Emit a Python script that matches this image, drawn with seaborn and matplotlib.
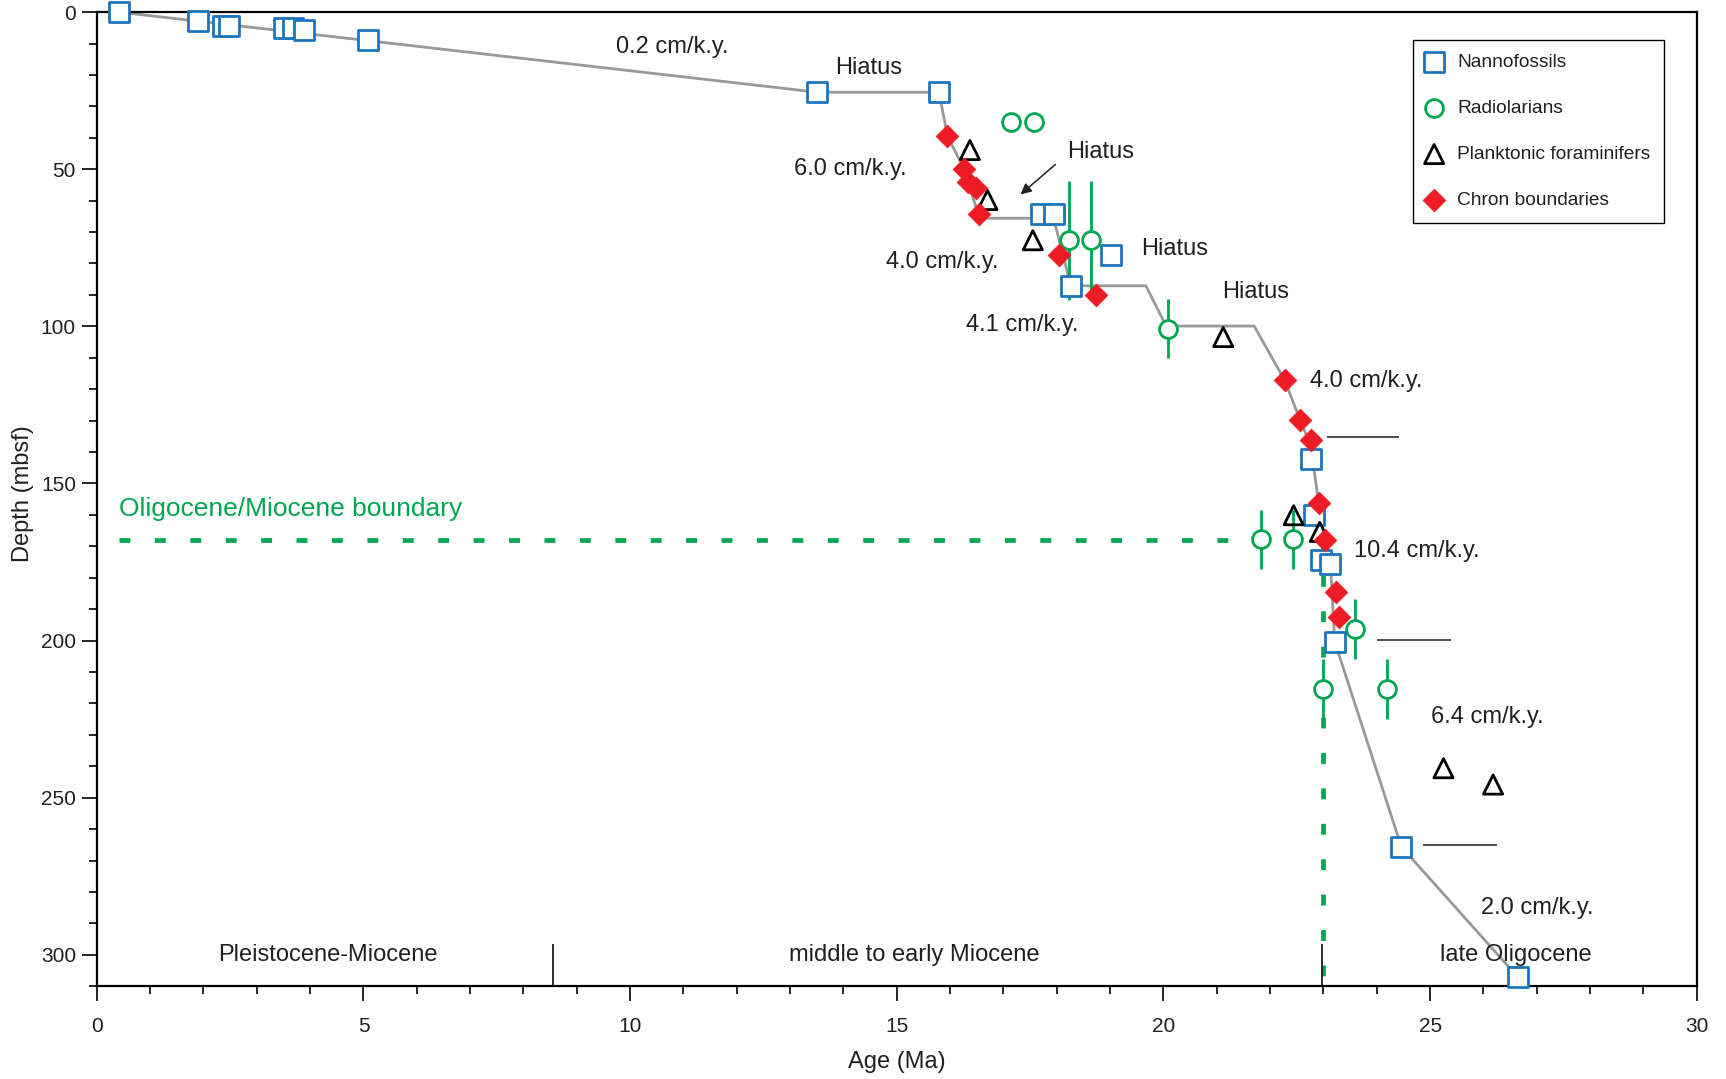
import matplotlib
matplotlib.use("Agg")
import matplotlib.pyplot as plt
from matplotlib.ticker import MultipleLocator
import numpy as np
import seaborn as sns

# ---- datum levels (age in Ma, depth in mbsf) ----
nanno_age = [0.41, 1.90, 2.37, 2.47, 3.51, 3.68, 3.89, 5.09, 13.51, 15.79,
             17.70, 17.94, 19.02, 18.26, 22.76, 22.82, 22.96, 23.13, 23.21,
             24.46, 26.64]
nanno_depth = [0.0, 2.7, 4.3, 4.3, 5.0, 5.0, 5.6, 8.8, 25.5, 25.5,
               64.1, 64.1, 77.3, 87.1, 142.1, 160.1, 174.5, 175.5, 200.3,
               265.6, 307.0]

rad_age = [17.14, 17.58, 18.22, 18.64, 20.08, 21.82, 22.42, 23.60, 23.00, 24.20]
rad_depth = [34.9, 34.9, 72.6, 72.6, 100.7, 167.8, 167.8, 196.2, 215.3, 215.3]
rad_err = [0.0, 0.0, 19.0, 19.0, 9.5, 9.3, 9.3, 9.6, 9.5, 9.5]

foram_age = [16.37, 16.70, 17.55, 21.12, 22.44, 22.93, 25.25, 26.18]
foram_depth = [43.9, 59.8, 72.6, 103.4, 160.1, 165.4, 240.6, 245.8]

chron_age = [15.95, 16.26, 16.33, 16.48, 16.55, 18.04, 18.73, 22.27, 22.56,
             22.76, 22.91, 23.02, 23.24, 23.30]
chron_depth = [39.4, 50.0, 54.0, 56.1, 64.3, 77.3, 89.9, 117.1, 129.7,
               136.2, 156.2, 168.1, 184.5, 192.5]

# age-depth model
model_age = [0.41, 13.51, 15.79, 15.95, 16.26, 16.55, 17.70, 17.94, 18.20,
             18.26, 19.67, 20.05, 21.70, 22.27, 22.56, 22.76, 22.91, 23.02,
             23.13, 23.21, 24.46, 26.64]
model_depth = [0.0, 25.5, 25.5, 39.4, 50.0, 65.6, 65.6, 65.6, 83.0,
               87.1, 87.1, 99.9, 99.9, 117.1, 129.7, 138.0, 156.2, 168.1,
               175.5, 200.3, 265.6, 307.0]

# sedimentation rates and hiatuses
rate_labels = ["0.2 cm/k.y.", "6.0 cm/k.y.", "4.0 cm/k.y.", "4.1 cm/k.y.",
               "4.0 cm/k.y.", "10.4 cm/k.y.", "6.4 cm/k.y.", "2.0 cm/k.y."]
rate_age = [10.79, 14.13, 15.85, 17.36, 23.80, 24.75, 26.07, 27.00]
rate_depth = [11.2, 49.8, 79.6, 99.5, 117.4, 171.4, 224.3, 285.0]

hiatus_age = [14.48, 18.82, 20.20, 21.73]
hiatus_depth = [17.9, 44.5, 75.4, 89.0]

# rate-change depth markers
mark_depth = [135.3, 199.9, 264.9]
mark_x0 = [23.07, 24.00, 24.87]
mark_x1 = [24.42, 25.39, 26.26]

# epochs
epoch_labels = ["Pleistocene-Miocene", "middle to early Miocene", "late Oligocene"]
epoch_age = [4.33, 15.33, 26.60]
epoch_bounds = [8.55, 22.98]

# Oligocene/Miocene boundary
om_age = 23.0
om_depth = 168.0

BLUE = "#1c75bc"
GREEN = "#00a651"
RED = "#ed1c24"
GREY = "#999999"
INK = "#231f20"

sns.set_theme(style="ticks")
plt.rcParams["font.family"] = ["Liberation Sans", "DejaVu Sans"]

fig = plt.figure(figsize=(17.26, 10.79), dpi=100)
ax = fig.add_axes([0.0561, 0.0859, 0.927, 0.9029])

# boundary lines
ax.plot([0.41, om_age], [om_depth, om_depth], color=GREEN, lw=3.4,
        dashes=(2.3, 5.2), zorder=2)
ax.plot([om_age, om_age], [om_depth, 310], color=GREEN, lw=3.4,
        dashes=(2.3, 5.2), zorder=2)

# age model
sns.lineplot(x=model_age, y=model_depth, sort=False, estimator=None,
             color=GREY, lw=2.0, ax=ax, zorder=1)

# radiolarian depth uncertainty
ra = np.array(rad_age); rd = np.array(rad_depth); re = np.array(rad_err)
has = re > 0
ax.vlines(ra[has], rd[has] - re[has], rd[has] + re[has], color=GREEN, lw=2.0,
          zorder=2)

sns.scatterplot(x=rad_age, y=rad_depth, marker="o", s=165, facecolor="white",
                edgecolor=GREEN, linewidth=2.0, label="Radiolarians", ax=ax,
                zorder=3)
sns.scatterplot(x=nanno_age, y=nanno_depth, marker="s", s=195, facecolor="white",
                edgecolor=BLUE, linewidth=2.0, label="Nannofossils", ax=ax,
                zorder=4, clip_on=False)
sns.scatterplot(x=foram_age, y=foram_depth, marker="^", s=190, facecolor="none",
                edgecolor="black", linewidth=2.0,
                label="Planktonic foraminifers", ax=ax, zorder=5)
sns.scatterplot(x=chron_age, y=chron_depth, marker="D", s=135, facecolor=RED,
                edgecolor=RED, linewidth=0.5, label="Chron boundaries", ax=ax,
                zorder=6)

# annotations
for t, a, d in zip(rate_labels, rate_age, rate_depth):
    ax.text(a, d, t, ha="center", va="center", fontsize=17, color=INK)
for a, d in zip(hiatus_age, hiatus_depth):
    ax.text(a, d, "Hiatus", ha="center", va="center", fontsize=17, color=INK)
ax.annotate("", xy=(17.28, 58.6), xytext=(18.01, 47.95),
            arrowprops=dict(arrowstyle="-|>", color=INK, lw=1.1,
                            mutation_scale=16))
ax.hlines(mark_depth, mark_x0, mark_x1, color=INK, lw=1.1, zorder=2)

for t, a in zip(epoch_labels, epoch_age):
    ax.text(a, 300, t, ha="center", va="center", fontsize=17, color=INK)
ax.vlines(epoch_bounds, 296.5, 310, color=INK, lw=1.3, zorder=2)

ax.text(0.42, 158.1, "Oligocene/Miocene boundary", ha="left", va="center",
        fontsize=19, color=GREEN)

# axes
ax.set_xlim(0, 30)
ax.set_ylim(310, 0)
ax.xaxis.set_major_locator(MultipleLocator(5))
ax.xaxis.set_minor_locator(MultipleLocator(1))
ax.yaxis.set_major_locator(MultipleLocator(50))
ax.yaxis.set_minor_locator(MultipleLocator(10))
ax.tick_params(which="major", length=11, width=1.2, direction="out",
               labelsize=15, colors="black", labelcolor=INK)
ax.tick_params(which="minor", length=6, width=1.2, direction="out",
               colors="black")
ax.tick_params(axis="x", which="major", pad=11)
ax.tick_params(axis="y", which="major", pad=4)
for s in ax.spines.values():
    s.set_visible(True)
    s.set_color("black")
    s.set_linewidth(1.6)

ax.set_xlabel("Age (Ma)", fontsize=17, color=INK)
ax.xaxis.label.set_verticalalignment("center")
ax.xaxis.set_label_coords(0.5, -0.0774)
ax.set_ylabel("Depth (mbsf)", fontsize=17, color=INK)
ax.yaxis.label.set_verticalalignment("center")
ax.yaxis.set_label_coords(-0.0464, 0.506)

handles, labels = ax.get_legend_handles_labels()
order = ["Nannofossils", "Radiolarians", "Planktonic foraminifers",
         "Chron boundaries"]
hmap = dict(zip(labels, handles))
leg = ax.legend([hmap[k] for k in order], order, loc="upper right",
                bbox_to_anchor=(0.9796, 0.9718), frameon=True, fancybox=False,
                edgecolor="black", framealpha=1, fontsize=13.8,
                labelspacing=1.5, handletextpad=0.8, handlelength=0.8,
                borderpad=0.72, borderaxespad=0, scatterpoints=1)
leg.get_frame().set_linewidth(1.0)
for txt in leg.get_texts():
    txt.set_color(INK)

fig.savefig("out.png", dpi=100)
